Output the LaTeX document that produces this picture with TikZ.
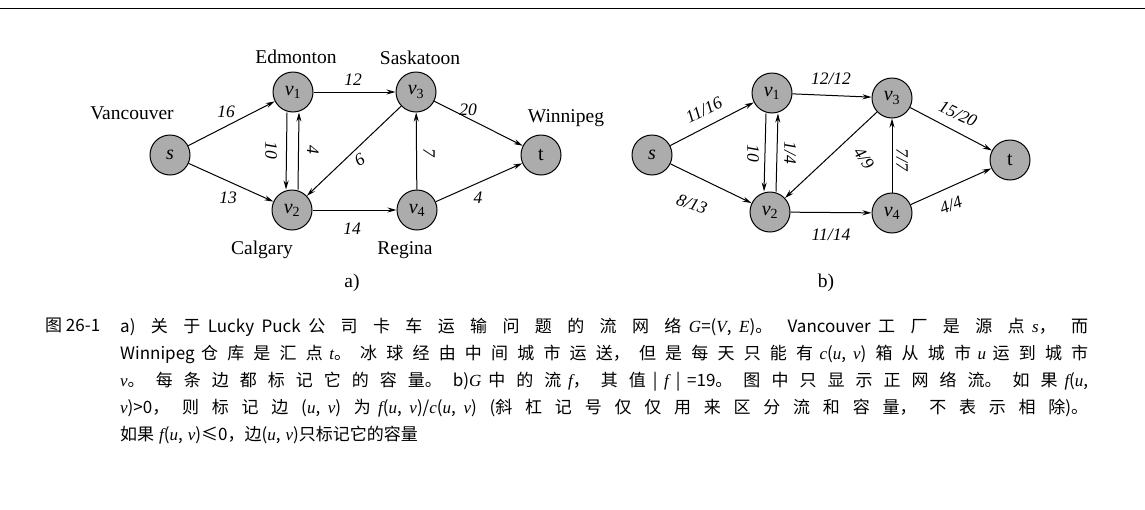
\documentclass[tikz,border=0pt]{standalone}
\usepackage{fontspec}
\setmainfont{Liberation Serif}
\newfontfamily\cjk{Noto Sans CJK SC}
\usetikzlibrary{arrows.meta}
\XeTeXlinebreaklocale "zh"
\XeTeXlinebreakskip=0pt plus 3pt
\newcommand{\Vr}[1]{{\rmfamily\itshape #1}}
\newcommand{\vv}[1]{\textit{v}\textsubscript{\upshape #1}}
\begin{document}
\begin{tikzpicture}[x=1pt,y=-1pt,
  vx/.style={circle,draw,fill=gray!65,line width=1pt,minimum size=40pt,inner sep=0pt,font=\fontsize{20}{20}\selectfont\itshape},
  ed/.style={-{Stealth[length=9pt,width=5pt]},line width=1pt},
  lb/.style={font=\fontsize{17.5}{17.5}\selectfont\itshape,inner sep=1pt},
  city/.style={font=\fontsize{19.5}{19.5}\selectfont,inner sep=1pt},
  capline/.style={anchor=north west,inner sep=0pt,font=\cjk\fontsize{17}{17}\selectfont}]
\useasboundingbox (0,0) rectangle (1145,509);
\draw[line width=0.8pt] (0,8) -- (1145,8);
% graph a
\node[vx] (s) at (170,155) {s};
\node[vx] (v1) at (293,92) {\vv{1}};
\node[vx] (v3) at (416,92) {\vv{3}};
\node[vx] (t) at (541,155) {\upshape t};
\node[vx] (v2) at (292,210) {\vv{2}};
\node[vx] (v4) at (417,210) {\vv{4}};
\draw[ed] (s) -- (v1); \draw[ed] (s) -- (v2);
\draw[ed] (v1) -- (v3); \draw[ed] (v3) -- (t);
\draw[ed] (v2) -- (v4); \draw[ed] (v4) -- (t);
\draw[ed] (v4) -- (v3); \draw[ed] (v3) -- (v2);
\draw[ed] ([xshift=-6pt]v1.south) -- ([xshift=-6pt]v2.north);
\draw[ed] ([xshift=6pt]v2.north) -- ([xshift=6pt]v1.south);
\node[lb] (a16) at (226,112) {16};
\node[lb] (a13) at (228,198) {13};
\node[lb] (a12) at (353,80) {12};
\node[lb] (a20) at (468,110) {20};
\node[lb,rotate=-90] (a10) at (271,150) {10};
\node[lb,rotate=-90] (a4) at (313,150) {4};
\node[lb,rotate=-150] (a9) at (360,160) {9};
\node[lb,rotate=-90] (a7) at (429,153) {7};
\node[lb] (a14) at (352,229) {14};
\node[lb] (a4b) at (478,198) {4};
\node[city] (c1) at (132,113) {Vancouver};
\node[city] (c2) at (296,57) {Edmonton};
\node[city] (c3) at (420,58) {Saskatoon};
\node[city] (c4) at (566,118) {Winnipeg};
\node[city] (c5) at (262,250) {Calgary};
\node[city] (c6) at (405,250) {Regina};
\node[city] (la) at (352,283) {a)};
% graph b
\node[vx] (bs) at (652,155) {s};
\node[vx] (b1) at (772,93) {\vv{1}};
\node[vx] (b3) at (892,98) {\vv{3}};
\node[vx] (bt) at (1010,160) {\upshape t};
\node[vx] (b2) at (770,212) {\vv{2}};
\node[vx] (b4) at (892,213) {\vv{4}};
\draw[ed] (bs) -- (b1); \draw[ed] (bs) -- (b2);
\draw[ed] (b1) -- (b3); \draw[ed] (b3) -- (bt);
\draw[ed] (b2) -- (b4); \draw[ed] (b4) -- (bt);
\draw[ed] (b4) -- (b3); \draw[ed] (b3) -- (b2);
\draw[ed] ([xshift=-6pt]b1.south) -- ([xshift=-6pt]b2.north);
\draw[ed] ([xshift=6pt]b2.north) -- ([xshift=6pt]b1.south);
\node[lb,rotate=27] (l1) at (704,110) {11/16};
\node[lb,rotate=-20] (l2) at (692,204) {8/13};
\node[lb] (l3) at (831,79) {12/12};
\node[lb,rotate=-25] (l4) at (958,114) {15/20};
\node[lb,rotate=-90] (l5) at (753,153) {10};
\node[lb,rotate=-90] (l6) at (790,153) {1/4};
\node[lb,rotate=-55] (l7) at (864,158) {4/9};
\node[lb,rotate=-90] (l8) at (902,160) {7/7};
\node[lb] (l9) at (831,235) {11/14};
\node[lb,rotate=20] (l10) at (951,205) {4/4};
\node[city] (lb2) at (826,283) {b)};
% caption
\node[capline] (f0) at (45,318) {图 26-1};
\node[capline] (f1) at (120,318) {\parbox[t]{968pt}{\baselineskip=27pt\spaceskip=5pt plus 0.5pt\relax
a)关于 Lucky Puck 公司卡车运输问题的流网络 \Vr{G}=(\Vr{V}, \Vr{E})。Vancouver 工厂是源点 \Vr{s}，而\linebreak
Winnipeg 仓库是汇点 \Vr{t}。冰球经由中间城市运送，但是每天只能有 \Vr{c}(\Vr{u}, \Vr{v})箱从城市 \Vr{u} 运到城市\linebreak
\Vr{v}。每条边都标记它的容量。b)\Vr{G} 中的流 \Vr{f}，其值 | \Vr{f} | =19。图中只显示正网络流。如果 \Vr{f}(\Vr{u},\linebreak
\Vr{v})>0，则标记边(\Vr{u}, \Vr{v})为 \Vr{f}(\Vr{u}, \Vr{v})/\Vr{c}(\Vr{u}, \Vr{v})(斜杠记号仅仅用来区分流和容量，不表示相除)。\linebreak
如果 \Vr{f}(\Vr{u}, \Vr{v})≤0，边(\Vr{u}, \Vr{v})只标记它的容量\par}};
\end{tikzpicture}
\end{document}
